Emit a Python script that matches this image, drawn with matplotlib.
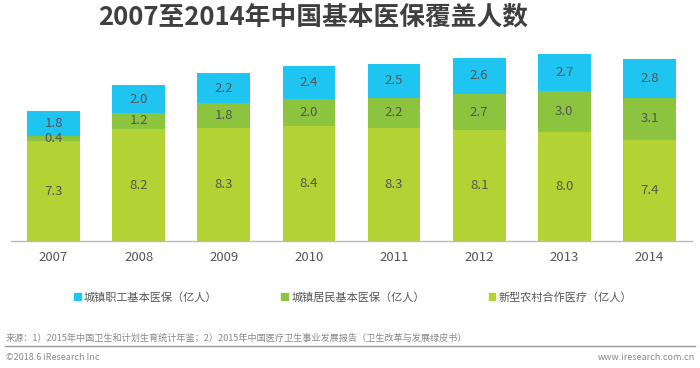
import matplotlib.pyplot as plt
from matplotlib.patches import Patch
from matplotlib.lines import Line2D

plt.rcParams['font.family'] = ['Noto Sans CJK SC', 'DejaVu Sans']

# Data (unit: 亿人)
years = ["2007", "2008", "2009", "2010", "2011", "2012", "2013", "2014"]
rural_coop = [7.3, 8.2, 8.3, 8.4, 8.3, 8.1, 8.0, 7.4]      # 新型农村合作医疗
urban_resident = [0.4, 1.2, 1.8, 2.0, 2.2, 2.7, 3.0, 3.1]   # 城镇居民基本医保
urban_employee = [1.8, 2.0, 2.2, 2.4, 2.5, 2.6, 2.7, 2.8]   # 城镇职工基本医保
series_names = ["城镇职工基本医保（亿人）", "城镇居民基本医保（亿人）", "新型农村合作医疗（亿人）"]

c_emp = "#1ec5f1"
c_res = "#8cc43f"
c_rur = "#b3d234"
label_color = "#555555"

fig = plt.figure(figsize=(7, 3.68), dpi=100)
W, H = 700, 368
ax = fig.add_axes([11 / W, 1 - 241 / H, (692 - 11) / W, (241 - 45) / H])

x = range(len(years))
bw = 0.62
b1 = ax.bar(x, rural_coop, bw, color=c_rur)
bottom2 = rural_coop
b2 = ax.bar(x, urban_resident, bw, bottom=bottom2, color=c_res)
bottom3 = [a + b for a, b in zip(rural_coop, urban_resident)]
b3 = ax.bar(x, urban_employee, bw, bottom=bottom3, color=c_emp)

for vals, bots in [(rural_coop, [0] * 8), (urban_resident, bottom2), (urban_employee, bottom3)]:
    for i, (v, b) in enumerate(zip(vals, bots)):
        ax.text(i, b + v / 2, f"{v:.1f}", ha="center", va="center",
                fontsize=9.5, color=label_color)

ax.set_xlim(-0.5, 7.5)
ax.set_ylim(0, 14.36)
ax.set_yticks([])
ax.set_xticks(list(x))
ax.set_xticklabels(years, fontsize=9.5, color=label_color)
ax.tick_params(axis="x", length=0, pad=7)
for s in ["top", "left", "right"]:
    ax.spines[s].set_visible(False)
ax.spines["bottom"].set_color("#bbbbbb")
ax.spines["bottom"].set_linewidth(1)

# Title
fig.text(313 / W, 1 - 17 / H, "2007至2014年中国基本医保覆盖人数", ha="center", va="center",
         fontsize=18.5, fontweight="bold", color="#3f3f3f")

# Legend
handles = [Patch(color=c_emp), Patch(color=c_res), Patch(color=c_rur)]
leg = fig.legend(handles, series_names, loc="center left", ncol=3,
                 bbox_to_anchor=(64 / W, 1 - 297 / H), frameon=False,
                 fontsize=8, handlelength=0.6, handleheight=0.6,
                 handletextpad=0.3, columnspacing=5.75)
for t in leg.get_texts():
    t.set_color(label_color)

# Source and footer
fig.text(6 / W, 1 - 338 / H,
         "来源：1）2015年中国卫生和计划生育统计年鉴；2）2015年中国医疗卫生事业发展报告（卫生改革与发展绿皮书）",
         ha="left", va="center", fontsize=6.6, color="#888888")
fig.add_artist(Line2D([5 / W, 695 / W], [1 - 346 / H, 1 - 346 / H], color="#999999", linewidth=1))
fig.text(6 / W, 1 - 357 / H, "©2018.6 iResearch Inc", ha="left", va="center",
         fontsize=6.5, color="#888888")
fig.text(695 / W, 1 - 357 / H, "www.iresearch.com.cn", ha="right", va="center",
         fontsize=6.5, color="#888888")

fig.savefig("out.png", dpi=100)
